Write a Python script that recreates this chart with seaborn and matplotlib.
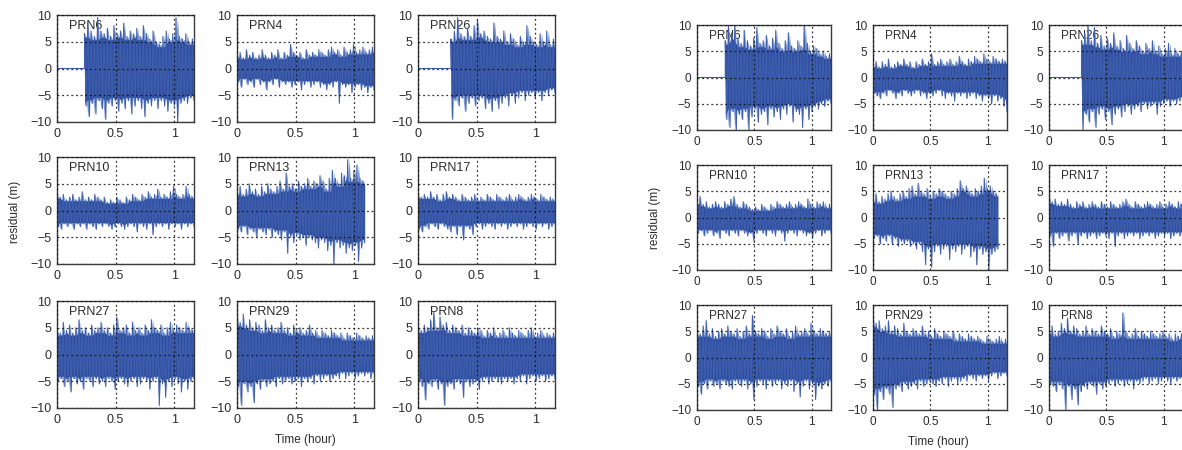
import numpy as np
import pandas as pd
import matplotlib
matplotlib.use("Agg")
import matplotlib.pyplot as plt
import seaborn as sns

# ---------------------------------------------------------------
# Satellites shown in each 3x3 grid (row-major order)
prn_left = ["PRN6", "PRN4", "PRN26", "PRN10", "PRN13", "PRN17", "PRN27", "PRN29", "PRN8"]
prn_right = ["PRN6", "PRN4", "PRN26", "PRN10", "PRN13", "PRN17", "PRN27", "PRN29", "PRN8"]

# Tracking spans (hour); residual is zero before a satellite is acquired
start_left = [0.235, 0.0, 0.282, 0.0, 0.0, 0.0, 0.0, 0.0, 0.0]
end_left = [1.17, 1.17, 1.17, 1.17, 1.09, 1.17, 1.17, 1.17, 1.17]
start_right = [0.247, 0.0, 0.284, 0.0, 0.0, 0.0, 0.0, 0.0, 0.0]
end_right = [1.17, 1.17, 1.17, 1.17, 1.09, 1.17, 1.17, 1.17, 1.17]

# Residual peaks (hi) and troughs (lo) along each pass, in metres
L_PRN6_HI = [6.5, 8.5, 7.0, 6.0, 9.5, 7.0, 6.5, 7.5, 6.0, 8.0, 6.5, 7.0, 8.5, 6.0, 7.0, 6.5, 7.5, 6.0, 8.0, 6.5, 5.5, 7.0, 5.0, 4.5, 6.0, 7.0, 5.5, 6.5, 9.5, 6.0, 5.5, 6.5, 5.0, 5.5]
L_PRN6_LO = [-7.0, -9.0, -6.5, -8.5, -6.0, -7.5, -9.5, -6.5, -7.0, -6.0, -8.0, -6.5, -7.5, -6.0, -8.5, -7.0, -6.0, -7.5, -9.0, -6.5, -7.0, -6.0, -7.5, -6.0, -7.0, -8.0, -6.5, -7.0, -10.0, -6.5, -6.0, -6.5, -5.5, -6.0]
L_PRN4_HI = [2.5, 3.0, 2.0, 3.5, 2.5, 3.0, 2.0, 2.5, 3.5, 2.5, 2.0, 3.0, 2.5, 3.5, 2.0, 3.0, 2.5, 4.5, 3.0, 2.5, 3.0, 2.0, 3.5, 2.5, 3.0, 2.5, 3.5, 3.0, 2.5, 3.5, 4.0, 3.0, 3.5, 2.5, 4.0, 3.0, 3.5, 4.5, 3.0, 3.5, 4.0, 3.0, 3.5, 4.0]
L_PRN4_LO = [-2.5, -3.5, -2.0, -3.0, -2.5, -3.5, -2.0, -3.0, -2.5, -4.0, -2.5, -3.0, -2.0, -3.5, -2.5, -3.0, -2.5, -3.5, -3.0, -2.5, -4.0, -3.0, -2.5, -3.5, -3.0, -2.5, -3.5, -3.0, -4.0, -3.0, -3.5, -2.5, -6.5, -3.0, -3.5, -3.0, -4.5, -3.5, -3.0, -4.0, -3.5, -4.5, -3.5, -4.0]
L_PRN26_HI = [5.5, 7.0, 9.5, 6.5, 6.0, 7.5, 6.0, 8.0, 9.0, 6.5, 7.0, 6.0, 5.5, 8.5, 6.0, 5.5, 7.0, 5.0, 6.5, 5.5, 4.5, 6.0, 5.0, 8.0, 6.0, 5.0, 4.5, 6.5, 5.0, 7.0, 4.5, 5.5]
L_PRN26_LO = [-9.5, -6.0, -7.0, -5.5, -8.0, -6.5, -5.5, -7.0, -6.0, -5.5, -7.5, -6.5, -8.0, -6.0, -7.5, -6.5, -5.5, -7.0, -5.0, -6.5, -5.5, -4.5, -6.0, -5.0, -4.5, -5.5, -4.5, -6.0, -4.5, -5.0, -4.0, -4.5]
L_PRN10_HI = [3.5, 2.5, 3.0, 2.0, 2.5, 3.0, 2.0, 2.5, 3.5, 2.0, 2.5, 2.0, 3.0, 2.5, 2.0, 2.5, 1.5, 2.0, 1.5, 2.5, 2.0, 1.5, 2.5, 2.0, 3.0, 2.5, 2.0, 3.0, 2.5, 3.5, 2.5, 3.0, 4.0, 2.5, 3.0, 2.5, 3.5, 4.5, 3.0, 2.5, 3.0, 4.5, 3.0, 2.5]
L_PRN10_LO = [-3.0, -3.5, -2.5, -3.0, -2.5, -3.5, -2.5, -3.0, -2.5, -3.5, -2.5, -3.0, -3.5, -2.5, -3.0, -2.5, -3.0, -3.5, -3.0, -2.5, -3.0, -3.5, -3.0, -2.5, -3.0, -4.0, -2.5, -3.0, -3.5, -2.5, -4.5, -3.0, -2.5, -3.0, -2.5, -3.5, -2.5, -3.0, -2.5, -3.5, -2.5, -3.0, -2.5, -3.0]
L_PRN13_HI = [3.5, 4.5, 3.0, 4.0, 5.0, 3.5, 4.0, 3.0, 4.5, 3.5, 5.0, 4.0, 3.5, 4.5, 5.5, 4.0, 7.0, 4.5, 5.0, 4.0, 5.5, 4.5, 5.0, 6.0, 4.5, 5.5, 5.0, 6.5, 5.5, 4.0, 6.0, 7.5, 6.0, 5.0, 7.0, 6.5, 9.5, 6.0, 7.5, 8.5, 6.0, 5.5]
L_PRN13_LO = [-3.5, -4.0, -3.0, -4.5, -3.5, -4.0, -5.0, -3.5, -4.0, -4.5, -3.5, -5.0, -4.0, -4.5, -5.5, -4.0, -8.0, -5.0, -6.0, -4.5, -5.5, -5.0, -6.5, -5.0, -5.5, -6.0, -7.0, -5.5, -6.0, -7.5, -6.5, -10.0, -6.0, -7.0, -6.5, -8.0, -7.0, -7.5, -6.5, -9.5, -7.0, -6.0]
L_PRN17_HI = [3.5, 2.5, 3.0, 2.5, 3.5, 2.5, 3.0, 2.0, 3.0, 3.5, 2.5, 3.0, 2.5, 2.0, 3.0, 2.5, 2.0, 2.5, 3.0, 2.0, 2.5, 2.0, 3.0, 2.5, 2.0, 3.0, 2.5, 2.0, 2.5, 3.0, 2.0, 2.5, 3.0, 2.5, 2.0, 2.5, 3.0, 2.5, 2.0, 3.0, 2.5, 2.0, 2.5, 2.0]
L_PRN17_LO = [-3.5, -4.0, -3.0, -3.5, -2.5, -3.0, -3.5, -2.5, -3.0, -3.5, -4.0, -3.0, -4.5, -3.0, -5.5, -3.0, -3.5, -4.5, -3.0, -2.5, -3.5, -3.0, -2.5, -3.0, -3.5, -2.5, -3.0, -2.5, -3.5, -3.0, -2.5, -3.0, -2.5, -3.5, -3.0, -2.5, -3.0, -3.5, -2.5, -3.0, -2.5, -3.5, -3.0, -2.5]
L_PRN27_HI = [5.0, 4.0, 6.0, 4.5, 5.5, 4.0, 5.0, 6.5, 4.5, 5.0, 4.0, 5.5, 4.5, 5.0, 6.0, 4.5, 5.0, 4.0, 5.5, 7.0, 4.5, 5.0, 5.5, 4.0, 6.0, 4.5, 5.0, 4.0, 5.5, 4.5, 6.5, 5.0, 4.5, 5.5, 4.0, 5.0, 6.0, 4.5, 5.5, 5.0, 4.5, 6.0, 5.0, 4.5]
L_PRN27_LO = [-5.0, -4.5, -6.0, -5.0, -7.0, -4.5, -5.5, -5.0, -6.5, -4.5, -5.0, -6.0, -4.5, -5.5, -5.0, -6.0, -4.5, -5.0, -6.5, -5.0, -4.5, -5.5, -6.0, -5.0, -4.5, -6.0, -5.5, -4.5, -5.0, -6.5, -5.0, -4.5, -9.5, -5.5, -8.0, -5.0, -6.0, -4.5, -5.5, -7.0, -5.0, -6.5, -5.0, -4.5]
L_PRN29_HI = [8.0, 6.0, 7.5, 5.5, 6.5, 5.0, 6.0, 5.5, 4.5, 6.5, 5.0, 5.5, 4.5, 5.0, 6.0, 4.5, 5.0, 4.0, 5.5, 4.5, 5.0, 4.0, 4.5, 5.5, 4.0, 4.5, 3.5, 4.5, 4.0, 3.5, 4.5, 4.0, 3.5, 4.0, 3.0, 4.0, 3.5, 3.0, 4.0, 3.5, 3.0, 3.5, 3.0, 3.5]
L_PRN29_LO = [-6.0, -9.5, -5.5, -7.0, -6.0, -9.0, -5.5, -6.5, -5.0, -6.0, -5.5, -5.0, -6.0, -4.5, -5.5, -5.0, -4.5, -5.5, -5.0, -4.5, -6.0, -4.5, -5.0, -4.5, -5.5, -4.0, -5.0, -4.5, -4.0, -5.0, -4.5, -4.0, -4.5, -3.5, -4.5, -4.0, -3.5, -4.5, -4.0, -3.5, -4.0, -3.5, -4.5, -3.5]
L_PRN8_HI = [6.0, 4.5, 5.5, 5.0, 6.5, 8.0, 5.0, 7.0, 5.5, 6.0, 4.5, 5.5, 5.0, 4.5, 5.5, 4.0, 5.0, 4.5, 4.0, 5.0, 4.5, 3.5, 4.5, 4.0, 5.0, 3.5, 4.0, 4.5, 3.5, 5.0, 4.0, 3.5, 4.5, 4.0, 3.5, 4.5, 5.0, 3.5, 4.0, 4.5, 3.5, 4.0, 3.5, 4.0]
L_PRN8_LO = [-5.0, -6.0, -8.5, -5.5, -6.0, -5.0, -6.5, -5.5, -9.5, -6.0, -5.5, -6.5, -5.0, -5.5, -8.0, -5.0, -6.0, -5.5, -5.0, -6.5, -5.0, -4.5, -5.5, -5.0, -4.5, -5.0, -5.5, -4.5, -5.0, -4.5, -5.5, -4.5, -5.0, -4.0, -5.5, -4.5, -4.0, -5.0, -4.5, -4.0, -5.0, -4.5, -4.0, -4.5]

R_PRN6_HI = [7.0, 10.0, 8.5, 10.0, 7.5, 6.5, 9.0, 7.0, 6.0, 7.5, 9.5, 6.5, 7.0, 8.0, 6.0, 7.5, 9.0, 6.5, 5.5, 7.0, 8.5, 6.0, 5.5, 7.0, 6.0, 10.0, 6.5, 5.0, 6.0, 5.5, 4.5, 5.0, 4.0, 4.5]
R_PRN6_LO = [-8.0, -9.5, -6.5, -10.0, -7.0, -8.0, -6.5, -10.0, -7.5, -6.0, -8.5, -7.0, -6.5, -9.0, -6.0, -7.5, -6.5, -8.0, -6.0, -7.0, -5.5, -8.5, -6.5, -7.0, -9.5, -6.0, -8.0, -6.5, -5.5, -6.0, -5.0, -5.5, -4.5, -5.0]
R_PRN4_HI = [2.5, 3.0, 2.0, 3.0, 2.5, 3.5, 2.0, 2.5, 3.0, 2.5, 3.5, 2.5, 3.0, 2.0, 3.0, 2.5, 3.5, 2.5, 3.0, 4.5, 2.5, 3.0, 3.5, 2.5, 3.0, 3.5, 2.5, 3.0, 4.0, 3.0, 2.5, 3.5, 3.0, 4.0, 3.5, 3.0, 4.5, 3.5, 3.0, 4.0, 3.5, 3.0, 3.5, 3.0]
R_PRN4_LO = [-3.0, -3.5, -4.0, -3.0, -3.5, -2.5, -3.0, -4.0, -3.0, -3.5, -2.5, -3.0, -3.5, -3.0, -2.5, -3.5, -3.0, -4.0, -3.0, -3.5, -3.0, -2.5, -3.5, -4.0, -3.0, -3.5, -4.5, -3.0, -3.5, -3.0, -4.0, -3.5, -3.0, -4.0, -3.5, -4.5, -3.5, -4.0, -5.0, -3.5, -4.5, -4.0, -5.5, -6.5]
R_PRN26_HI = [7.0, 8.5, 10.0, 7.0, 9.5, 6.5, 8.0, 6.0, 7.5, 6.5, 8.5, 6.0, 7.0, 5.5, 8.0, 6.5, 5.5, 7.0, 6.0, 5.0, 6.5, 5.5, 7.0, 5.0, 6.0, 4.5, 5.5, 6.5, 4.5, 5.5, 4.5, 5.0]
R_PRN26_LO = [-10.0, -7.0, -8.5, -6.5, -9.5, -7.0, -6.0, -8.0, -6.5, -9.0, -7.0, -6.0, -7.5, -6.5, -5.5, -7.0, -6.0, -5.5, -6.5, -5.0, -6.0, -5.5, -5.0, -7.0, -5.5, -5.0, -4.5, -5.5, -4.5, -5.0, -4.5, -4.0]
R_PRN10_HI = [3.0, 4.0, 2.5, 3.0, 2.0, 2.5, 3.0, 2.5, 2.0, 3.0, 2.5, 3.5, 4.0, 2.5, 2.0, 3.0, 2.5, 2.0, 1.5, 2.0, 1.5, 2.5, 2.0, 1.5, 2.5, 2.0, 3.0, 2.5, 2.0, 2.5, 3.0, 2.0, 2.5, 3.0, 2.5, 2.0, 3.5, 2.5, 2.0, 3.0, 2.5, 3.0, 2.0, 2.5]
R_PRN10_LO = [-3.0, -2.5, -3.5, -3.0, -2.5, -3.5, -3.0, -4.0, -2.5, -3.0, -3.5, -2.5, -3.0, -3.5, -2.5, -3.0, -3.5, -3.0, -4.5, -3.0, -2.5, -3.0, -3.5, -2.5, -3.0, -3.5, -2.5, -3.0, -4.5, -3.0, -2.5, -3.0, -3.5, -2.5, -3.0, -3.5, -3.0, -4.0, -3.0, -2.5, -3.5, -3.0, -2.5, -3.0]
R_PRN13_HI = [3.5, 4.5, 3.0, 4.0, 3.5, 4.5, 5.0, 4.0, 3.5, 4.5, 5.0, 4.0, 5.5, 6.0, 4.5, 6.5, 5.0, 4.5, 5.5, 4.0, 5.0, 4.5, 5.5, 5.0, 4.5, 4.0, 5.0, 4.5, 5.5, 7.0, 5.5, 6.0, 5.0, 4.5, 5.5, 5.0, 6.0, 7.5, 5.5, 6.0, 5.0, 4.5]
R_PRN13_LO = [-4.0, -3.5, -5.0, -4.0, -4.5, -3.5, -5.0, -4.0, -5.5, -4.5, -5.0, -4.5, -5.5, -5.0, -6.0, -5.0, -6.5, -9.0, -6.0, -9.5, -6.5, -5.5, -7.0, -6.0, -5.5, -8.0, -6.0, -6.5, -5.5, -7.0, -6.0, -5.5, -7.5, -6.5, -9.0, -6.0, -7.0, -6.5, -10.0, -7.0, -6.5, -6.0]
R_PRN17_HI = [5.0, 3.0, 3.5, 2.5, 3.0, 2.5, 3.5, 2.5, 2.0, 3.0, 2.5, 3.0, 2.0, 2.5, 3.0, 2.5, 2.0, 3.0, 2.5, 2.0, 3.0, 2.5, 2.0, 2.5, 3.0, 3.5, 2.5, 2.0, 3.0, 2.5, 2.0, 2.5, 3.0, 2.5, 2.0, 2.5, 3.0, 2.0, 2.5, 3.0, 2.5, 2.0, 3.0, 2.5]
R_PRN17_LO = [-3.5, -5.5, -3.0, -4.0, -3.5, -3.0, -4.5, -3.5, -3.0, -5.0, -3.5, -3.0, -4.0, -3.5, -3.0, -4.0, -3.5, -3.0, -3.5, -4.0, -3.0, -5.5, -3.5, -3.0, -4.0, -3.5, -3.0, -3.5, -3.0, -4.0, -3.5, -3.0, -3.5, -3.0, -4.0, -3.5, -3.0, -3.5, -3.0, -4.0, -3.5, -3.0, -3.5, -3.0]
R_PRN27_HI = [5.0, 4.5, 6.0, 7.0, 4.5, 5.5, 4.0, 5.0, 5.5, 4.5, 6.0, 5.0, 4.5, 5.5, 4.0, 5.0, 6.0, 4.5, 8.0, 5.0, 4.5, 5.5, 5.0, 4.0, 5.5, 4.5, 6.0, 5.0, 4.5, 5.5, 4.0, 5.0, 6.0, 4.5, 5.0, 5.5, 4.5, 6.5, 5.0, 4.5, 5.5, 5.0, 4.5, 5.0]
R_PRN27_LO = [-5.5, -7.0, -5.0, -6.0, -4.5, -5.5, -5.0, -6.0, -4.5, -5.0, -5.5, -6.0, -4.5, -5.0, -5.5, -4.5, -6.0, -5.0, -8.0, -5.5, -4.5, -5.0, -6.0, -4.5, -5.5, -5.0, -4.5, -6.0, -5.0, -5.5, -4.5, -6.5, -5.0, -7.5, -5.5, -4.5, -6.0, -5.0, -8.0, -5.5, -6.0, -5.0, -5.5, -4.5]
R_PRN29_HI = [8.0, 6.5, 7.0, 5.5, 6.0, 7.0, 5.0, 6.0, 5.5, 4.5, 6.5, 5.0, 4.5, 5.5, 5.0, 4.5, 6.0, 4.5, 5.0, 4.0, 5.5, 4.5, 4.0, 5.0, 4.5, 4.0, 5.0, 3.5, 4.5, 4.0, 3.5, 4.5, 4.0, 3.5, 4.0, 3.5, 3.0, 4.0, 3.5, 3.0, 3.5, 4.0, 3.0, 3.5]
R_PRN29_LO = [-7.0, -10.0, -6.5, -8.0, -6.0, -7.0, -9.5, -6.0, -5.5, -6.5, -5.0, -6.0, -5.5, -5.0, -6.0, -4.5, -5.5, -5.0, -4.5, -5.0, -5.5, -4.5, -5.0, -4.0, -5.5, -4.5, -4.0, -5.0, -4.5, -4.0, -4.5, -3.5, -4.0, -4.5, -3.5, -4.0, -3.5, -4.5, -3.5, -3.0, -4.0, -3.5, -3.0, -3.5]
R_PRN8_HI = [5.5, 6.0, 4.5, 5.0, 6.5, 5.5, 7.5, 5.0, 6.0, 5.5, 4.5, 5.0, 6.0, 4.5, 5.5, 5.0, 4.5, 6.0, 5.0, 4.5, 5.5, 4.0, 5.0, 4.5, 8.5, 5.0, 4.0, 4.5, 5.5, 4.0, 5.0, 4.5, 4.0, 5.0, 4.5, 4.0, 4.5, 5.0, 4.0, 4.5, 3.5, 4.5, 4.0, 4.5]
R_PRN8_LO = [-5.0, -5.5, -6.5, -5.0, -6.0, -10.0, -5.5, -8.0, -6.0, -9.0, -6.5, -5.5, -6.0, -5.0, -5.5, -7.0, -5.0, -6.0, -5.5, -5.0, -4.5, -5.5, -5.0, -4.5, -5.5, -5.0, -4.5, -6.0, -4.5, -5.0, -4.5, -4.0, -5.0, -4.5, -4.0, -5.0, -4.5, -4.0, -4.5, -5.0, -4.0, -4.5, -4.0, -4.5]

# Axis ticks
x_ticks = [0, 0.5, 1]
x_tick_labels = ["0", "0.5", "1"]
y_ticks = [-10, -5, 0, 5, 10]
y_tick_labels = ["\u221210", "\u22125", "0", "5", "10"]

left_hi = [L_PRN6_HI, L_PRN4_HI, L_PRN26_HI, L_PRN10_HI, L_PRN13_HI, L_PRN17_HI, L_PRN27_HI, L_PRN29_HI, L_PRN8_HI]
left_lo = [L_PRN6_LO, L_PRN4_LO, L_PRN26_LO, L_PRN10_LO, L_PRN13_LO, L_PRN17_LO, L_PRN27_LO, L_PRN29_LO, L_PRN8_LO]
right_hi = [R_PRN6_HI, R_PRN4_HI, R_PRN26_HI, R_PRN10_HI, R_PRN13_HI, R_PRN17_HI, R_PRN27_HI, R_PRN29_HI, R_PRN8_HI]
right_lo = [R_PRN6_LO, R_PRN4_LO, R_PRN26_LO, R_PRN10_LO, R_PRN13_LO, R_PRN17_LO, R_PRN27_LO, R_PRN29_LO, R_PRN8_LO]

# ---------------------------------------------------------------
sns.set_style("white")
plt.rcParams["font.family"] = ["Liberation Sans", "DejaVu Sans"]
plt.rcParams["axes.unicode_minus"] = True

W, H = 1182, 450
fig = plt.figure(figsize=(W / 100, H / 100), dpi=100)
fig.patch.set_facecolor("white")

TRACE = "#3e5fae"   # individual excursions
FRINGE = "#6a8bcb"  # sparse outer part of the residual cloud
CORE = "#2f4d9c"    # dense body of the residual cloud
INK = "#2b2b2b"


def trace_frame(name, hi, lo, t0, t1):
    """Residual trace alternating between successive peaks and troughs."""
    n = min(len(hi), len(lo))
    vals = np.empty(2 * n)
    vals[0::2] = hi[:n]
    vals[1::2] = lo[:n]
    t = np.linspace(t0, t1, 2 * n)
    if t0 > 0:
        t = np.concatenate([[0.0, t0], t])
        vals = np.concatenate([[0.0, 0.0], vals])
    return pd.DataFrame({"prn": name, "time": t, "residual": vals})


def cloud_edges(hi, lo):
    """Outer (spiky) and inner (solid) edges of the residual cloud."""
    h = np.asarray(hi, float)
    l = np.asarray(lo, float)
    n = min(len(h), len(l))
    h, l = h[:n], l[:n]
    hp = np.pad(h, 1, mode="edge")
    lp = np.pad(l, 1, mode="edge")
    top = 0.9 * np.minimum(np.minimum(hp[:-2], hp[1:-1]), hp[2:])
    bot = 0.9 * np.maximum(np.maximum(lp[:-2], lp[1:-1]), lp[2:])
    # spikes: each peak drops back to the inner edge half-way to the next one
    up = np.empty(2 * n - 1)
    dn = np.empty(2 * n - 1)
    up[0::2] = h
    dn[0::2] = l
    up[1::2] = np.minimum(top[:-1], top[1:])
    dn[1::2] = np.maximum(bot[:-1], bot[1:])
    return up, dn, top, bot


def draw_grid(names, his, los, starts, ends, lefts, tops, width, height, fs):
    for k, name in enumerate(names):
        r, c = divmod(k, 3)
        x0 = lefts[c] / W
        y0 = 1 - (tops[r] + height) / H
        ax = fig.add_axes([x0, y0, width / W, height / H])
        up, dn, top, bot = cloud_edges(his[k], los[k])
        t_edge = np.linspace(starts[k], ends[k], len(up))
        t_body = np.linspace(starts[k], ends[k], len(top))
        ax.fill_between(t_edge, dn, up, color=FRINGE, alpha=0.85, linewidth=0, zorder=1.8)
        ax.fill_between(t_body, bot, top, color=CORE, linewidth=0, zorder=1.9)
        df = trace_frame(name, his[k], los[k], starts[k], ends[k])
        sns.lineplot(data=df, x="time", y="residual", ax=ax, sort=False,
                     estimator=None, color=TRACE, linewidth=0.8, zorder=2)
        ax.set_xlim(0, 1.17)
        ax.set_ylim(-10, 10)
        ax.set_xticks(x_ticks)
        ax.set_xticklabels(x_tick_labels)
        ax.set_yticks(y_ticks)
        ax.set_yticklabels(y_tick_labels)
        ax.set_xlabel("")
        ax.set_ylabel("")
        ax.set_axisbelow(False)
        ax.grid(True, linestyle=(0, (1.5, 2.2)), color="#111111", linewidth=0.9, alpha=0.85)
        ax.tick_params(direction="in", length=3, width=0.8, colors=INK,
                       labelsize=fs, pad=4)
        for sp in ax.spines.values():
            sp.set_visible(True)
            sp.set_color("#3a3a3a")
            sp.set_linewidth(1.0)
        ax.text(0.09, 0.895, name, transform=ax.transAxes, fontsize=fs,
                color=INK, va="center", ha="left", zorder=1)
        ax.set_facecolor("white")


# left grid
draw_grid(prn_left, left_hi, left_lo, start_left, end_left,
          lefts=[57, 237, 418], tops=[15, 157, 301], width=137, height=107, fs=9)
# right grid
draw_grid(prn_right, right_hi, right_lo, start_right, end_right,
          lefts=[697, 873, 1049], tops=[25, 165, 305], width=134, height=105, fs=8.5)

fig.text(15 / W, 1 - 212 / H, "residual (m)", rotation=90, ha="center", va="center",
         fontsize=8.5, color=INK)
fig.text(655 / W, 1 - 218 / H, "residual (m)", rotation=90, ha="center", va="center",
         fontsize=8.5, color=INK)
fig.text(305 / W, 1 - 440 / H, "Time (hour)", ha="center", va="center",
         fontsize=8.5, color=INK)
fig.text(938 / W, 1 - 442 / H, "Time (hour)", ha="center", va="center",
         fontsize=8.5, color=INK)

fig.savefig("out.png", dpi=100, facecolor="white")
